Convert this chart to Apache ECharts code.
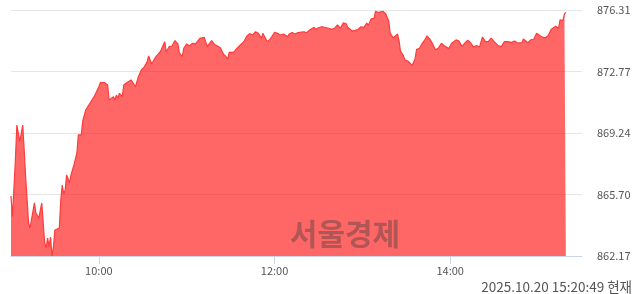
<!DOCTYPE html>
<html><head><meta charset="utf-8">
<script src="https://cdn.jsdelivr.net/npm/echarts@6/dist/echarts.min.js"></script>
<style>html,body{margin:0;padding:0;background:#fff}#c{width:640px;height:294px}</style>
</head><body><div id="c"></div><script>
const times = ['09:00','09:01','09:03','09:04','09:05','09:06','09:08','09:09','09:10','09:12','09:13','09:14','09:16','09:17','09:19','09:21','09:22','09:23','09:24','09:25','09:26','09:27','09:28','09:29','09:30','09:31','09:33','09:34','09:35','09:36','09:37','09:38','09:40','09:41','09:43','09:45','09:46','09:48','09:49','09:51','09:52','09:54','09:55','09:57','09:58',
'10:00','10:01','10:04','10:06','10:07','10:08','10:10','10:11','10:12','10:13','10:14','10:16','10:17','10:18','10:19','10:20','10:22','10:23','10:25','10:26','10:27','10:29','10:31','10:33','10:34','10:36','10:37','10:39','10:42','10:43','10:45','10:46','10:48','10:50','10:52','10:54','10:55','10:57','10:58',
'11:00','11:02','11:04','11:06','11:07','11:09','11:10','11:12','11:14','11:15','11:17','11:19','11:21','11:23','11:25','11:27','11:28','11:29','11:32','11:33','11:34','11:36','11:39','11:41','11:43','11:45','11:47','11:49','11:51','11:52','11:55','11:57',
'12:00','12:02','12:04','12:06','12:09','12:10','12:12','12:14','12:16','12:17','12:20','12:22','12:24','12:27','12:28','12:30','12:32','12:34','12:37','12:39','12:41','12:43','12:45','12:47','12:49','12:50','12:53','12:55','12:57','12:59',
'13:01','13:03','13:04','13:06','13:08','13:09','13:10','13:11','13:12','13:14','13:16','13:18','13:19','13:21','13:22','13:24','13:25','13:26','13:28','13:29','13:31','13:32','13:34','13:36','13:37','13:39','13:41','13:43','13:44','13:46','13:48','13:50','13:51','13:52','13:54','13:56','13:59',
'14:01','14:02','14:04','14:06','14:08','14:10','14:12','14:14','14:16','14:18','14:20','14:22','14:24','14:26','14:28','14:30','14:33','14:35','14:37','14:39','14:42','14:44','14:46','14:49','14:50','14:53','14:55','14:57','14:59',
'15:01','15:03','15:05','15:07','15:09','15:10','15:12','15:14','15:15','15:17','15:18','15:19'];
const values = [865.62,864.43,867.69,869.70,869.70,868.74,869.70,868.26,866.73,864.07,863.78,863.89,865.22,864.64,864.35,865.22,864.07,862.92,862.63,863.20,862.70,863.26,862.17,862.70,863.66,863.57,863.78,865.39,866.25,865.73,865.96,866.83,866.37,866.83,867.40,868.09,869.13,869.13,869.93,870.56,870.45,870.96,870.85,871.37,871.33,
871.90,872.13,872.13,872.00,871.14,871.23,871.33,871.14,871.42,871.23,871.52,871.33,872.00,871.90,872.13,872.13,872.29,872.19,871.90,872.00,872.48,872.86,873.03,873.34,873.67,873.21,873.34,873.63,873.91,873.84,874.49,873.91,874.20,874.24,874.55,874.36,873.84,873.63,874.11,
874.36,874.24,874.40,874.36,874.43,874.68,874.59,874.74,874.21,874.11,874.55,874.33,874.24,874.14,873.78,873.61,873.48,873.88,873.88,873.86,874.07,874.24,874.49,874.80,874.95,874.87,875.06,874.97,874.68,874.97,874.49,874.63,
875.03,874.97,874.87,874.93,874.78,874.93,875.01,874.93,875.01,874.97,875.06,875.01,875.16,875.32,875.20,875.29,875.35,875.32,875.26,875.20,875.26,875.45,875.26,875.58,875.51,875.32,875.10,875.14,875.19,875.35,
875.30,875.56,875.42,875.80,875.83,876.24,876.31,876.17,876.25,876.24,876.08,875.68,874.97,874.71,874.82,874.93,874.56,873.95,873.69,873.44,873.38,873.42,873.12,873.51,874.03,874.11,874.41,874.63,874.82,874.65,874.36,874.01,873.90,874.13,874.40,874.25,874.09,
874.40,874.33,874.59,874.53,874.22,874.41,874.57,874.41,874.18,874.27,874.18,874.76,874.49,874.49,874.70,874.49,874.25,874.22,874.49,874.49,874.45,874.53,874.41,874.43,874.65,874.43,874.59,874.63,874.97,
874.84,874.76,874.71,874.84,875.20,875.18,875.37,875.26,875.74,875.70,876.08,876.17];
const yTickLabels = ['862.17','865.70','869.24','872.77','876.31'];
const yMin = 862.17, yMax = 876.31;
const xTickLabels = ['10:00','12:00','14:00'];
const sessionStart = '09:00', sessionEnd = '15:30';
const stampText = '2025.10.20 15:20:49 현재';
const watermarkText = '서울경제';

function toMin(s){const p=s.split(':').map(Number);return p[0]*60+p[1];}
function toLabel(t){const h=Math.floor(t/60),m=t%60;return String(h).padStart(2,'0')+':'+String(m).padStart(2,'0');}
const categories=[];
for(let t=toMin(sessionStart);t<=toMin(sessionEnd);t++) categories.push(toLabel(t));
const seriesData = times.map((t,i)=>[t, values[i]]);
const showTick = (idx,val)=>xTickLabels.indexOf(val)>=0;

const FONT = "'Noto Sans CJK KR', 'Noto Sans', sans-serif";
const chart = echarts.init(document.getElementById('c'), null, {renderer:'canvas'});
chart.setOption({
  animation:false,
  grid:{left:11, right:58, top:10, bottom:38, containLabel:false},
  xAxis:{
    type:'category', data:categories, boundaryGap:false,
    axisLine:{onZero:false, lineStyle:{color:'#ccd6eb', width:1}},
    axisTick:{interval:showTick, length:8, lineStyle:{color:'#ccd6eb'}},
    axisLabel:{interval:showTick, color:'#555', fontSize:11, margin:9, fontFamily:FONT},
    splitLine:{show:false}
  },
  yAxis:[{
    type:'value', position:'right', min:0, max:yTickLabels.length-1, interval:1,
    axisLine:{show:false}, axisTick:{show:false},
    axisLabel:{formatter:v=>yTickLabels[v], color:'#555', fontSize:11, margin:15, fontFamily:FONT},
    splitLine:{lineStyle:{color:'#e6e6e6', width:1}}
  },{
    type:'value', min:yMin, max:yMax, show:false, splitLine:{show:false}
  }],
  series:[{
    type:'line', yAxisIndex:1, data:seriesData, showSymbol:false, symbol:'none',
    lineStyle:{color:'#ff3b3b', width:1.2},
    areaStyle:{color:'#ff0000', opacity:0.6},
    z:2
  }],
  graphic:[
    {type:'text', x:345, y:234, z:100, style:{text:watermarkText, fill:'rgba(60,60,60,0.4)', font:"bold 30px 'Noto Sans CJK KR'", align:'center', verticalAlign:'middle'}},
    {type:'text', x:632, y:287, z:100, style:{text:stampText, fill:'#555', font:"13.5px 'Noto Sans CJK KR'", align:'right', verticalAlign:'middle'}}
  ]
});
</script></body></html>
